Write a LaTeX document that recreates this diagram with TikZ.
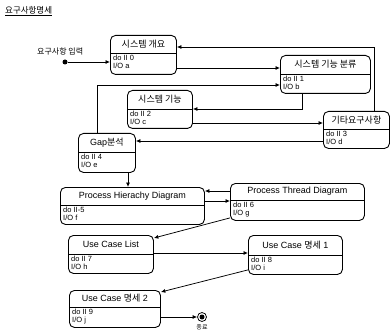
\documentclass[tikz,border=0pt]{standalone}
\usepackage{fontspec}
\setmainfont{Liberation Sans}
\newfontfamily\cjk{Noto Sans CJK KR}
\usetikzlibrary{arrows.meta,calc}

\tikzset{
 sbox/.style={draw, rounded corners=5pt, line width=0.9pt, inner sep=0pt},
 htext/.style={font=\fontsize{9}{10}\selectfont, inner sep=0pt},
 btext/.style={font=\fontsize{7.5}{8.3}\selectfont, align=left, inner sep=0pt, anchor=north west},
 arr/.style={line width=0.75pt, -{Latex[length=4.5pt,width=4pt]}},
 divl/.style={line width=0.75pt},
 lbl/.style={inner sep=0pt},
}

\newcommand{\stbox}[9]{%
 \node[sbox, minimum width=#4pt, minimum height=#5pt, anchor=north west] (#1) at (#2,#3) {};
 \coordinate (#1-d) at ([yshift=-#6pt]#1.north);
 \draw[divl] (#1-d -| #1.west) -- (#1-d -| #1.east);
 \node[htext] (#1-t) at ($(#1.north)!0.5!(#1-d)$) {#7};
 \node[btext] (#1-b) at ([xshift=3pt,yshift=-1.5pt]#1-d -| #1.west) {#8\\#9};
}

\begin{document}
\begin{tikzpicture}[x=1pt,y=-1pt]
\useasboundingbox (0,0) rectangle (390,331);

% title
\node[lbl, anchor=west, font=\fontsize{8.5}{10}\selectfont] (title) at (5,11) {\underline{\cjk 요구사항명세}};

% start
\node[lbl, anchor=west, font=\fontsize{8}{10}\selectfont] (startlbl) at (37,51) {\cjk 요구사항 입력};
\node[circle, fill, minimum size=5pt, inner sep=0pt] (start) at (65,62) {};

% states
\stbox{sov}{110}{35}{66}{39}{18}{\cjk 시스템 개요}{do II 0}{I/O a}
\stbox{sfc}{280}{55}{90}{38}{19}{\cjk 시스템 기능 분류}{do II 1}{I/O b}
\stbox{sf}{127}{90}{65}{38}{19}{\cjk 시스템 기능}{do II 2}{I/O c}
\stbox{ksr}{323}{111}{66}{37}{18}{\cjk 기타요구사항}{do II 3}{I/O d}
\stbox{gap}{78}{133}{57}{39}{19}{Gap{\cjk 분석}}{do II 4}{I/O e}
\stbox{phd}{60}{187}{144}{37}{18}{Process Hierachy Diagram}{do II-5}{I/O f}
\stbox{ptd}{230}{183}{134}{37}{17}{Process Thread Diagram}{do II 6}{I/O g}
\stbox{ucl}{68}{235}{85}{38}{19}{Use Case List}{do II 7}{I/O h}
\stbox{uca}{248}{235}{94}{39}{20}{Use Case {\cjk 명세} 1}{do II 8}{I/O i}
\stbox{ucb}{69}{290}{91}{37}{17}{Use Case {\cjk 명세} 2}{do II 9}{I/O j}

% end
\node[circle, draw, line width=0.75pt, minimum size=9pt, inner sep=0pt] (end) at (202,317) {};
\node[circle, fill, minimum size=5pt, inner sep=0pt] (endin) at (end) {};
\node[lbl, font=\fontsize{6}{7}\selectfont] (endlbl) at (202,327) {\cjk 종료};

% helper coordinates
\coordinate (k1) at (374,47);
\coordinate (k2) at (0,68);
\coordinate (k3) at (97,85);
\coordinate (k4) at (302,109);
\coordinate (k5) at (0,123);
\coordinate (k6) at (0,141);
\coordinate (k7) at (128,0);
\coordinate (k8) at (0,191);
\coordinate (k9) at (0,201);
\coordinate (k10) at (0,253);

% connectors
\draw[arr] (start) -- (start -| sov.west);
\draw[arr] (k1 |- ksr.north) |- (k1 -| sov.east);
\draw[arr] (k2 -| sov.east) -- (k2 -| sfc.west);
\draw[arr] (k3 |- gap.north) |- (k3 -| sfc.west);
\draw[arr] (k4 |- sfc.south) |- (k4 -| sf.east);
\draw[arr] (k5 -| sf.east) -- (k5 -| ksr.west);
\draw[arr] (k6 -| ksr.west) -- (k6 -| gap.east);
\draw[arr] (k7 |- gap.south) -- (k7 |- phd.north);
\draw[arr] (k8 -| ptd.west) -- (k8 -| phd.east);
\draw[arr] (k9 -| phd.east) -- (k9 -| ptd.west);
\draw[arr] ([yshift=3pt]ptd.south west) -- ([yshift=-3pt]ucl.north east);
\draw[arr] (k10 -| ucl.east) -- (k10 -| uca.west);
\draw[arr] ([yshift=5pt]uca.south west) -- ([yshift=-2pt]ucb.north east);
\draw[arr] (ucb.east |- end) -- (end);
\end{tikzpicture}
\end{document}
